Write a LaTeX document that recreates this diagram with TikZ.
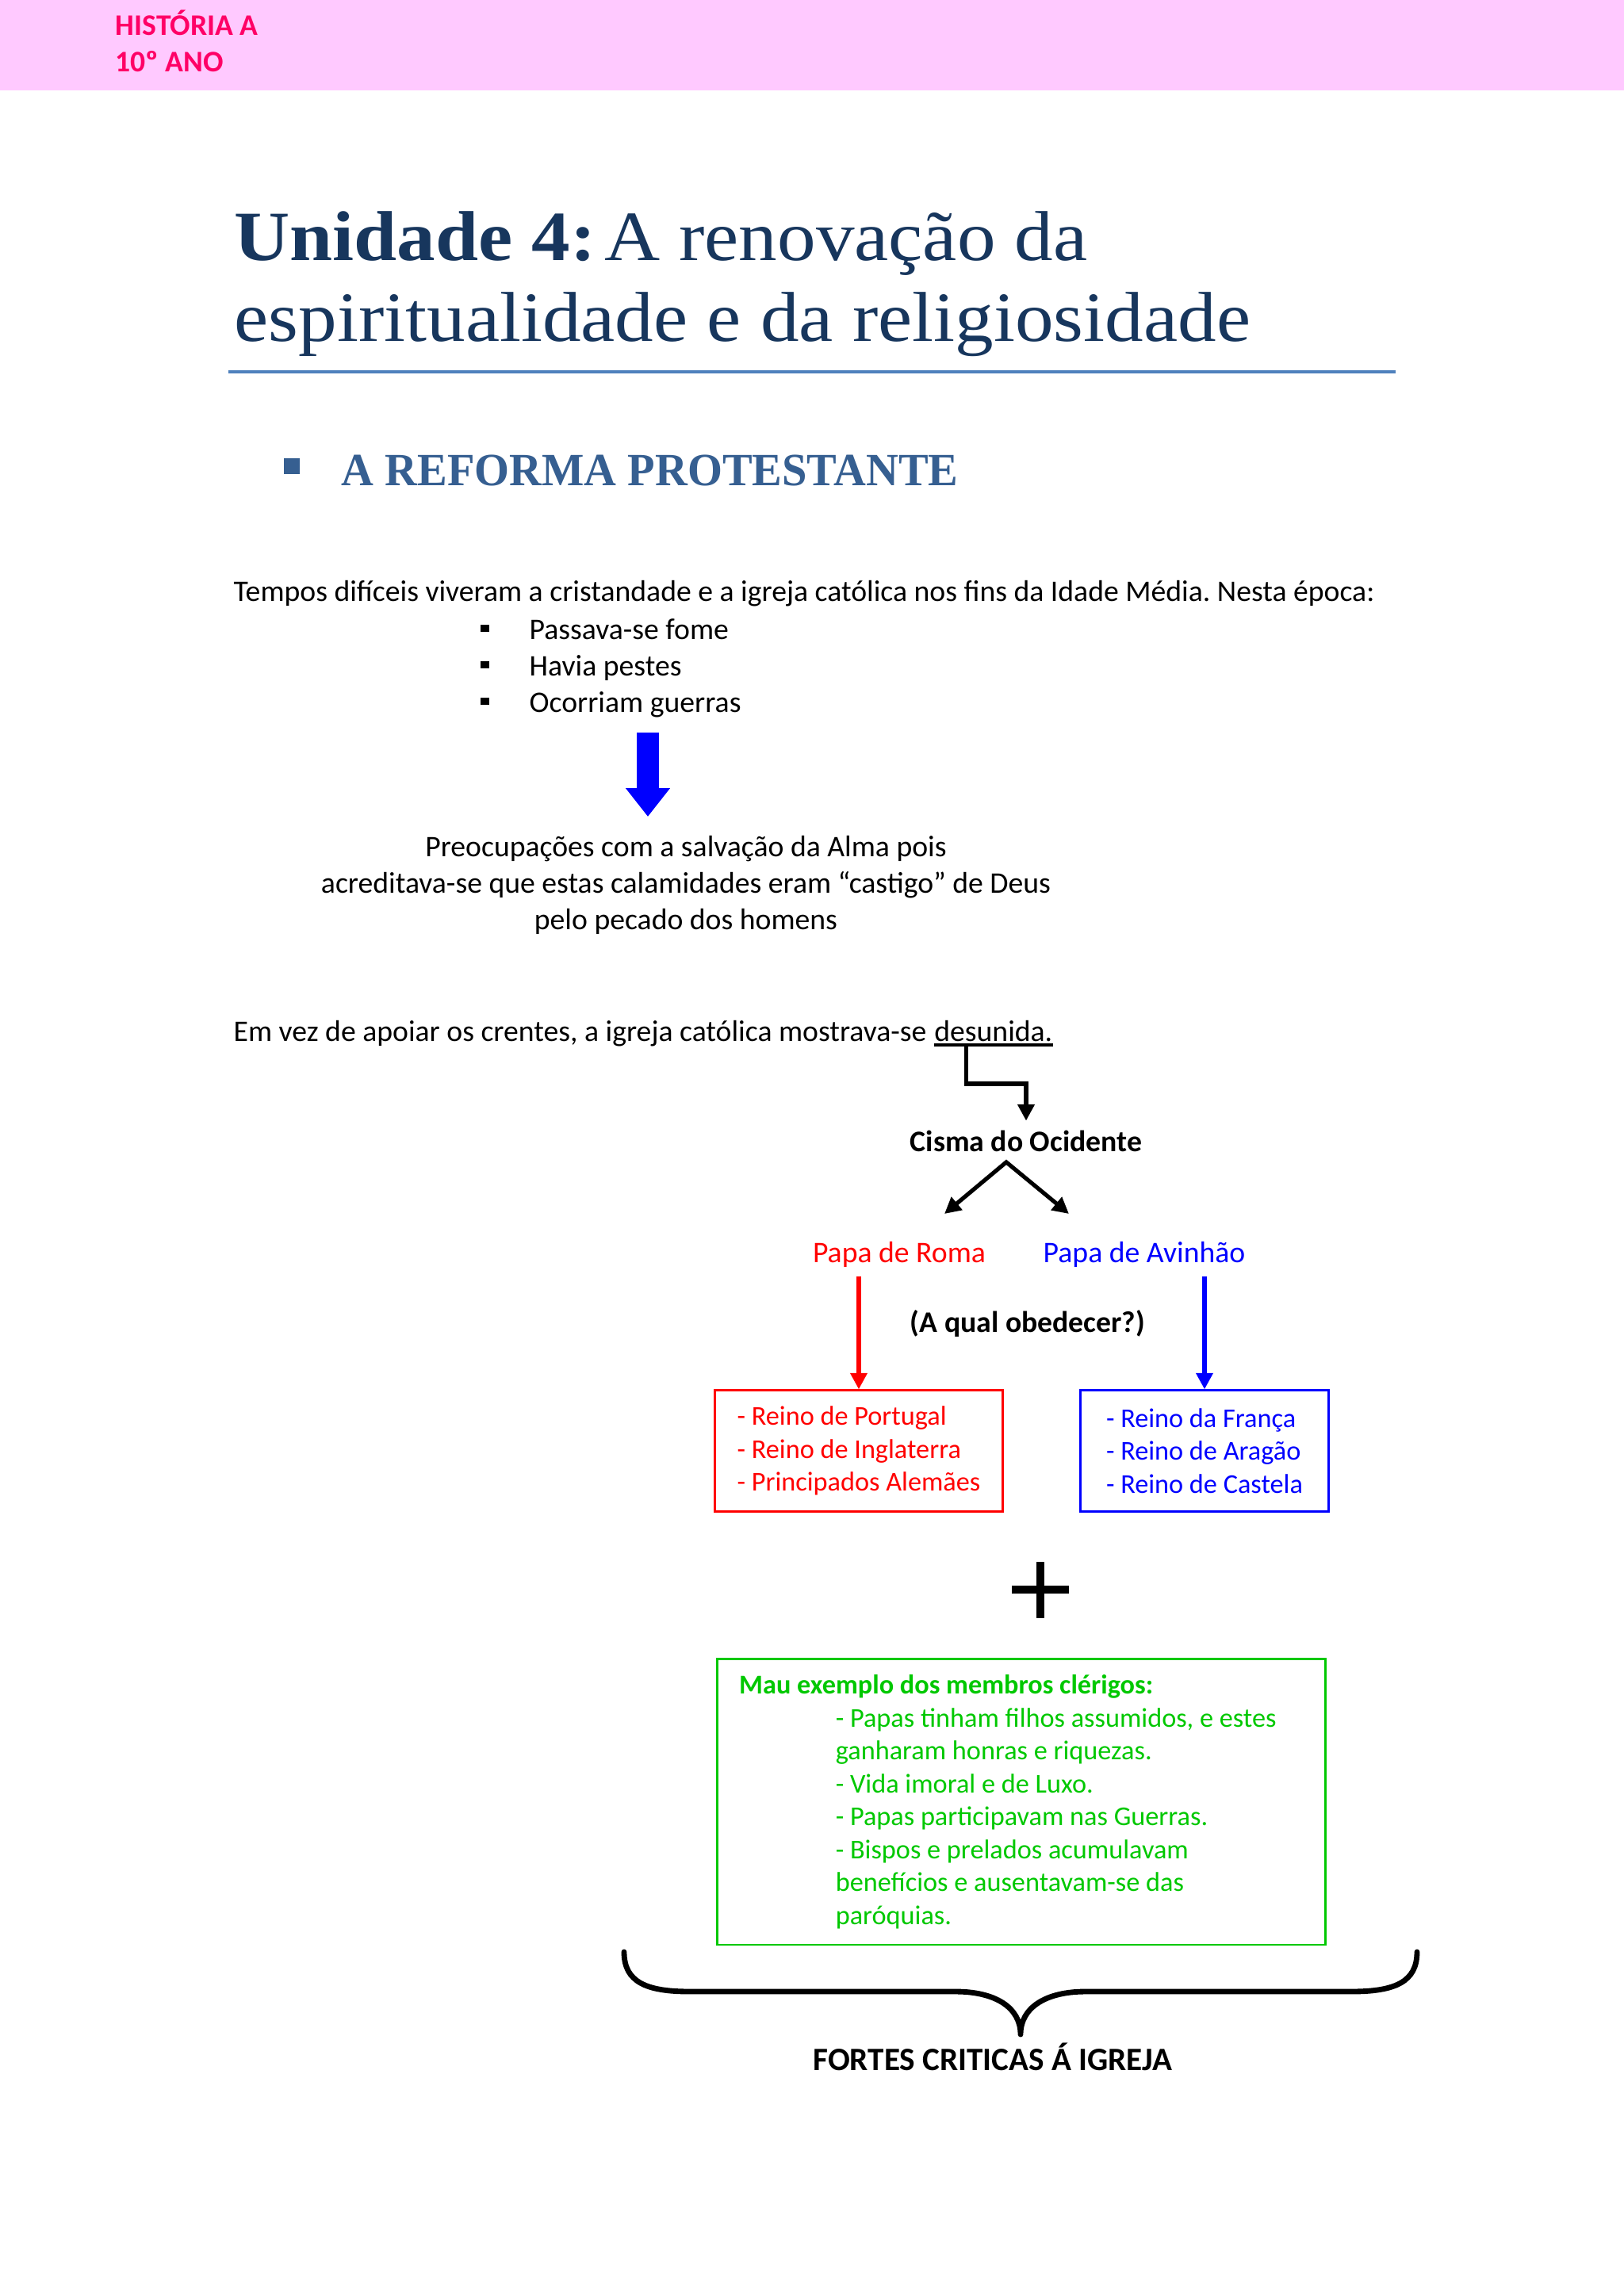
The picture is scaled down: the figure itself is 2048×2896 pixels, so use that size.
\documentclass[tikz,border=0pt]{standalone}
\usepackage{fontspec}
\setmainfont{Carlito}
\newfontfamily\titlefont[FakeStretch=1.09]{Liberation Serif}
\newfontfamily\headfont[FakeStretch=0.97]{Liberation Serif}
\usetikzlibrary{arrows.meta,calc,positioning}

\definecolor{headerpink}{RGB}{255,201,255}
\definecolor{headertext}{RGB}{255,0,102}
\definecolor{titlenavy}{RGB}{23,54,93}
\definecolor{ruleblue}{RGB}{79,129,189}
\definecolor{headblue}{RGB}{54,95,145}
\definecolor{cleriggreen}{RGB}{0,200,0}

\newcommand{\recuo}{\hspace*{35.5pt}}
\frenchspacing

\begin{document}
\begin{tikzpicture}[x=0.010254cm, y=-0.010254cm,
  every node/.style={inner sep=0pt, font=\fontsize{11}{13.4}\selectfont},
  txt/.style={anchor=base west},
  lbl/.style={anchor=base, inner sep=3pt, text height=8pt, text depth=2pt},
  listbox/.style={draw=#1, text=#1, line width=0.8pt, align=left, inner xsep=8pt,
    minimum height=44.5pt, font=\fontsize{10}{12.06}\selectfont},
  arr/.style={line width=1.5pt, -{Triangle[length=6pt,width=6pt]}}]
  \useasboundingbox (0,0) rectangle (2048,2896);
  \fill[white] (0,0) rectangle (2048,2896);

  % header band
  \fill[headerpink] (0,0) rectangle (2048,114);
  \node[txt, text=headertext, font=\fontsize{11}{13.4}\selectfont\bfseries] (disciplina) at (145,44) {HISTÓRIA A};
  \node[txt, text=headertext, font=\fontsize{11}{13.4}\selectfont\bfseries] (ano) at (145,90) {10º ANO};

  % title
  \node[txt, text=titlenavy, font=\titlefont\fontsize{26}{30}\selectfont] (titulo1) at (295,328) {\textbf{Unidade 4:}\hspace{3pt}A renovação da};
  \node[txt, text=titlenavy, font=\titlefont\fontsize{26}{30}\selectfont] (titulo2) at (295,430) {espiritualidade e da religiosidade};
  \draw[ruleblue, line width=1pt] (288,469) -- (1760,469);

  \fill[headblue] (358,578) rectangle (378,598);
  \node[txt, text=headblue, font=\headfont\fontsize{17}{20}\selectfont\bfseries] (seccao) at (430,612) {A REFORMA PROTESTANTE};

  % crisis of the late middle ages
  \node[txt] (tempos) at (294,758) {Tempos difíceis viveram a cristandade e a igreja católica nos fins da Idade Média. Nesta época:};
  \foreach \texto/\yy/\nome in {Passava-se fome/806/fome, Havia pestes/852/pestes, Ocorriam guerras/898/guerras} {
    \fill (606,\yy-18) rectangle (617,\yy-9);
    \node[txt] (\nome) at (667,\yy) {\texto};
  }
  \coordinate (setatopo) at (817,924);
  \coordinate (setafim) at (817,1030);
  \draw[blue, line width=8.4pt, -{Triangle[length=10.5pt,width=15.7pt]}] (setatopo) -- (setafim);
  \node[anchor=base, align=center] (preocupacoes) at (865,1172) {Preocupações com a salvação da Alma pois\\acreditava-se que estas calamidades eram “castigo” de Deus\\pelo pecado dos homens};

  % the schism
  \node[txt] (crise) at (294,1313) {Em vez de apoiar os crentes, a igreja católica mostrava-se};
  \node[txt, xshift=2.5pt] (desunida) at (crise.base east) {desunida.};
  \draw[line width=0.9pt] ($(desunida.base west)+(0,5)$) -- ($(desunida.base east)+(0,5)$);

  \node[lbl, font=\fontsize{11}{13.4}\selectfont\bfseries] (cisma) at (1294,1452) {Cisma do Ocidente};
  \node[lbl, text=red] (roma) at (1134,1592) {Papa de Roma};
  \node[lbl, text=blue] (avinhao) at (1443,1592) {Papa de Avinhão};
  \node[lbl, font=\fontsize{11}{13.4}\selectfont\bfseries] (obedecer) at (1296,1680) {(A qual obedecer?)};

  \node[listbox=red, minimum width=105.8pt] (reinosroma) at (1083,1830) {- Reino de Portugal\\- Reino de Inglaterra\\- Principados Alemães};
  \node[listbox=blue, minimum width=91.3pt] (reinosavinhao) at (1519,1830) {- Reino da França\\- Reino de Aragão\\- Reino de Castela};

  \draw[arr] ($(desunida.base west)+(41,7)$) -- ++(0,47) -| (cisma.north);
  \coordinate (bifurca) at ($(cisma.south)+(-25,-4)$);
  \coordinate (pontaroma) at (1191,1531);
  \coordinate (pontaavinhao) at (1348,1531);
  \draw[line width=1.5pt, {Triangle[length=6pt,width=6pt]}-{Triangle[length=6pt,width=6pt]}] (pontaroma) -- (bifurca) -- (pontaavinhao);
  \draw[arr, red] (roma.south -| reinosroma.north) -- (reinosroma.north);
  \draw[arr, blue] (avinhao.south -| reinosavinhao.north) -- (reinosavinhao.north);

  % plus sign
  \draw[line width=2.9pt] (1276,2005) -- (1348,2005) (1312,1970) -- (1312,2041);

  \node[draw=cleriggreen, text=cleriggreen, line width=0.8pt, anchor=north west, align=left,
    text width=207.6pt, inner xsep=8.1pt, minimum height=105.2pt,
    execute at begin node={\spaceskip=0pt\xspaceskip=0pt},
    font=\fontsize{10}{12.1}\selectfont] (mauexemplo) at (903,2091)
    {\textbf{Mau exemplo dos membros clérigos:}\\
     \recuo- Papas tinham filhos assumidos, e estes\\
     \recuo ganharam honras e riquezas.\\
     \recuo- Vida imoral e de Luxo.\\
     \recuo- Papas participavam nas Guerras.\\
     \recuo- Bispos e prelados acumulavam\\
     \recuo benefícios e ausentavam-se das\\
     \recuo paróquias.};

  % brace over everything
  \draw[line width=2pt, line cap=round, line join=round] (787,2462) .. controls (787,2500) and (815,2512) .. (870,2512)
    -- (1205,2512) .. controls (1255,2512) and (1287,2532) .. (1287,2566)
    .. controls (1287,2532) and (1319,2512) .. (1369,2512)
    -- (1704,2512) .. controls (1759,2512) and (1787,2500) .. (1787,2462);
  \node[anchor=base, font=\fontsize{12}{14.5}\selectfont\bfseries] (criticas) at (1252,2611) {FORTES CRITICAS Á IGREJA};
\end{tikzpicture}
\end{document}
